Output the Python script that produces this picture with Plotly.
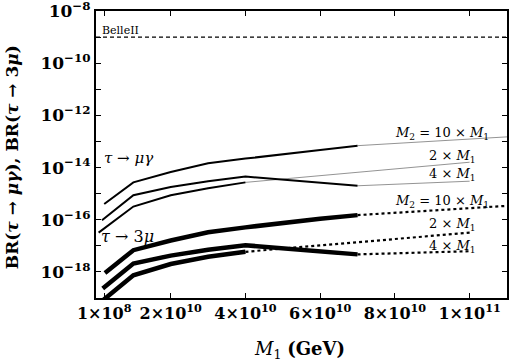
import plotly.graph_objects as go

# tau -> mu gamma, solid part
x_mg_10 = [2.2e9, 1e10, 2e10, 3e10, 4e10, 5e10, 6e10, 7e10]
y_mg_10 = [4.0e-16, 2.7e-15, 6.8e-15, 1.45e-14, 2.2e-14, 3.3e-14, 4.7e-14, 6.9e-14]
x_mg_4 = [1.6e9, 1e10, 2e10, 3e10, 4e10, 5e10, 6e10, 7e10]
y_mg_4 = [9.5e-17, 8.7e-16, 1.8e-15, 3.0e-15, 4.5e-15, 3.5e-15, 2.6e-15, 2.0e-15]
x_mg_2 = [0.7e9, 1e10, 2e10, 3e10, 4e10]
y_mg_2 = [3.2e-17, 3.2e-16, 8.7e-16, 1.6e-15, 2.7e-15]

# tau -> mu gamma, extrapolation
x_mg_10_ext = [7e10, 1.1e11]
y_mg_10_ext = [6.9e-14, 1.5e-13]
x_mg_4_ext = [7e10, 1e11]
y_mg_4_ext = [2.0e-15, 3.0e-15]
x_mg_2_ext = [4e10, 1e11]
y_mg_2_ext = [2.7e-15, 1.6e-14]

# tau -> 3 mu, solid part
x_3m_10 = [2.4e9, 1e10, 2e10, 3e10, 4e10, 5e10, 6e10, 7e10]
y_3m_10 = [9.1e-19, 6.8e-18, 1.6e-17, 3.3e-17, 5.1e-17, 7.8e-17, 1.1e-16, 1.5e-16]
x_3m_4 = [1.8e9, 1e10, 2e10, 3e10, 4e10, 5e10, 6e10, 7e10]
y_3m_4 = [2.3e-19, 2.1e-18, 4.2e-18, 7.1e-18, 1.05e-17, 8.1e-18, 6.2e-18, 4.7e-18]
x_3m_2 = [0.9e9, 1e10, 2e10, 3e10, 4e10]
y_3m_2 = [6.3e-20, 7.4e-19, 2.0e-18, 3.8e-18, 5.9e-18]

# tau -> 3 mu, extrapolation
x_3m_10_ext = [7e10, 1.1e11]
y_3m_10_ext = [1.5e-16, 3.4e-16]
x_3m_4_ext = [7e10, 1e11]
y_3m_4_ext = [4.7e-18, 6.2e-18]
x_3m_2_ext = [4e10, 1e11]
y_3m_2_ext = [5.9e-18, 3.2e-17]

belle2_limit = 1e-9

x_ticks = [2.2e9, 2e10, 4e10, 6e10, 8e10, 1e11]
x_ticktext = ['1×10<sup>8</sup>', '2×10<sup>10</sup>', '4×10<sup>10</sup>',
              '6×10<sup>10</sup>', '8×10<sup>10</sup>', '1×10<sup>11</sup>']
y_ticks = [1e-18, 1e-16, 1e-14, 1e-12, 1e-10, 1e-8]
y_ticktext = ['10<sup>−18</sup>', '10<sup>−16</sup>', '10<sup>−14</sup>',
              '10<sup>−12</sup>', '10<sup>−10</sup>', '10<sup>−8</sup>']
y_minor = [1e-19, 1e-17, 1e-15, 1e-13, 1e-11, 1e-9]

SERIF = 'DejaVu Serif'

fig = go.Figure()


def add_line(x, y, width, color='black', dash='solid'):
    fig.add_trace(go.Scatter(x=x, y=y, mode='lines', showlegend=False, hoverinfo='skip',
                             line=dict(color=color, width=width, dash=dash)))


add_line([0, 1.1e11], [belle2_limit, belle2_limit], 1.3, dash='4px,3px')

for x, y in [(x_mg_10_ext, y_mg_10_ext), (x_mg_4_ext, y_mg_4_ext), (x_mg_2_ext, y_mg_2_ext)]:
    add_line(x, y, 0.8, color='#777777')
for x, y in [(x_mg_10, y_mg_10), (x_mg_4, y_mg_4), (x_mg_2, y_mg_2)]:
    add_line(x, y, 2)

for x, y in [(x_3m_10_ext, y_3m_10_ext), (x_3m_4_ext, y_3m_4_ext), (x_3m_2_ext, y_3m_2_ext)]:
    add_line(x, y, 2.2, dash='dot')
for x, y in [(x_3m_10, y_3m_10), (x_3m_4, y_3m_4), (x_3m_2, y_3m_2)]:
    add_line(x, y, 4.5)

# labels next to the curves (y in log10 units)
labels = [
    (1.058e11, -12.68, '<i>M</i><sub>2</sub> = 10 × <i>M</i><sub>1</sub>'),
    (1.023e11, -13.59, '2 × <i>M</i><sub>1</sub>'),
    (1.023e11, -14.27, '4 × <i>M</i><sub>1</sub>'),
    (1.058e11, -15.29, '<i>M</i><sub>2</sub> = 10 × <i>M</i><sub>1</sub>'),
    (1.023e11, -16.17, '2 × <i>M</i><sub>1</sub>'),
    (1.023e11, -17.04, '4 × <i>M</i><sub>1</sub>'),
]
for lx, ly, txt in labels:
    fig.add_annotation(x=lx, y=ly, text=txt, showarrow=False, xanchor='right',
                       yanchor='middle', font=dict(family=SERIF, size=13, color='black'))

fig.add_annotation(x=1.07e9, y=-8.76, text='BelleII', showarrow=False, xanchor='left',
                   yanchor='middle', font=dict(family=SERIF, size=11, color='black'))
fig.add_annotation(x=1.5e9, y=-13.62, text='<i>τ</i> → <i>μγ</i>', showarrow=False,
                   xanchor='left', yanchor='middle', font=dict(family=SERIF, size=15, color='black'))
fig.add_annotation(x=0.8e9, y=-16.63, text='<i>τ</i> → 3<i>μ</i>', showarrow=False,
                   xanchor='left', yanchor='middle', font=dict(family=SERIF, size=16, color='black'))

# axis titles
fig.add_annotation(xref='paper', yref='paper', x=-0.204, y=0.491, textangle=-90,
                   xanchor='center', yanchor='middle',
                   text='<b>BR</b>(<i>τ</i> → <i>μγ</i>), <b>BR</b>(<i>τ</i> → 3<i>μ</i>)',
                   showarrow=False, font=dict(family=SERIF, size=17, color='black', weight='bold'))
fig.add_annotation(xref='paper', yref='paper', x=0.496, y=-0.181,
                   xanchor='center', yanchor='middle',
                   text='<i>M</i><sub>1</sub> <b>(GeV)</b>',
                   showarrow=False, font=dict(family=SERIF, size=18, color='black'))

fig.update_layout(
    width=513, height=362,
    margin=dict(l=96, r=6, t=11, b=64),
    plot_bgcolor='white', paper_bgcolor='white',
    xaxis=dict(range=[0, 1.1e11], tickvals=x_ticks, ticktext=x_ticktext, tickangle=0,
               ticks='inside', ticklen=5, tickwidth=1, tickcolor='black',
               showline=True, linewidth=2, linecolor='black', mirror='ticks',
               showgrid=False, zeroline=False, automargin=False,
               ticklabeloverflow='allow',
               tickfont=dict(family=SERIF, size=16, color='black', weight='bold')),
    yaxis=dict(type='log', range=[-19, -8], tickvals=y_ticks, ticktext=y_ticktext,
               ticks='inside', ticklen=5, tickwidth=1, tickcolor='black',
               minor=dict(tickvals=y_minor, ticks='inside', ticklen=5, tickcolor='black'),
               showline=True, linewidth=2, linecolor='black', mirror='ticks',
               showgrid=False, zeroline=False, automargin=False,
               ticklabeloverflow='allow',
               tickfont=dict(family=SERIF, size=17, color='black', weight='bold')),
)

# page body has a default margin; drop it so the figure sits at the window corner
fig.write_html('out.html', config={'displayModeBar': False},
               post_script="document.body.style.margin='0';")
